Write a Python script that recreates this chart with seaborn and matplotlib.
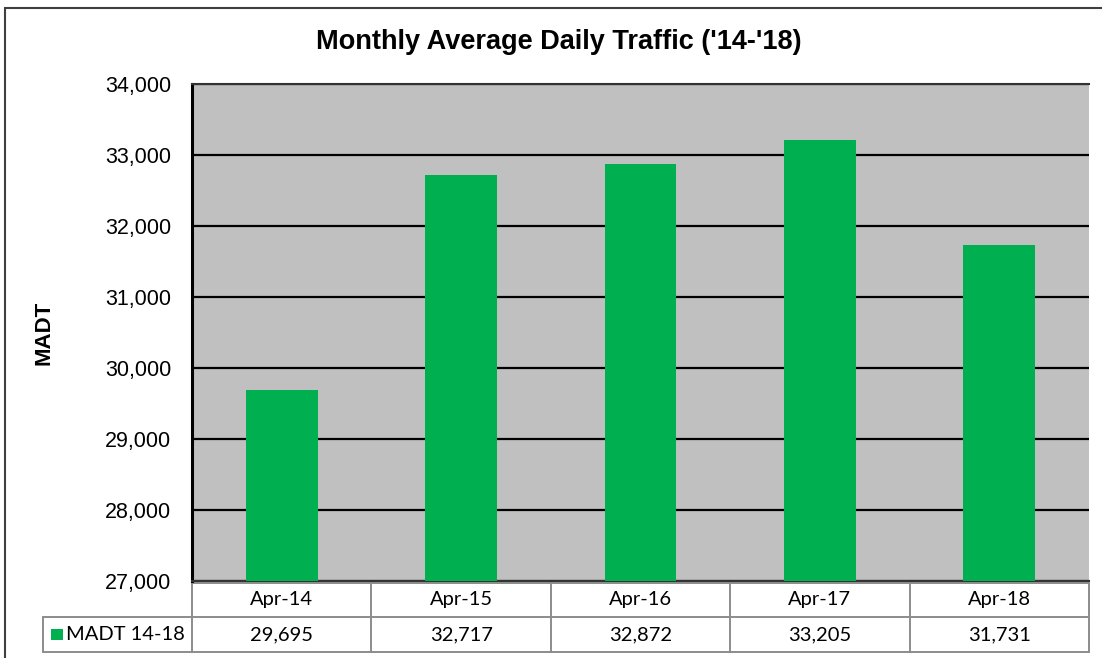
import matplotlib
matplotlib.use("Agg")
import matplotlib.pyplot as plt
import seaborn as sns
import pandas as pd
from matplotlib.patches import Rectangle
from matplotlib.ticker import FuncFormatter, MultipleLocator

categories = ["Apr-14", "Apr-15", "Apr-16", "Apr-17", "Apr-18"]
madt = [29695, 32717, 32872, 33205, 31731]
series_name = "MADT 14-18"
title = "Monthly Average Daily Traffic ('14-'18)"
ylabel = "MADT"

sns.set_theme(style="white")
plt.rcParams["font.family"] = ["Liberation Sans", "DejaVu Sans"]
plt.rcParams["text.color"] = "black"
plt.rcParams["axes.labelcolor"] = "black"

fig = plt.figure(figsize=(11.02, 6.58), dpi=100)
W, H = 1102, 658
ax = fig.add_axes([192 / W, 1 - 581 / H, (1089 - 192) / W, (581 - 84) / H])

df = pd.DataFrame({"cat": categories, "val": madt})
sns.barplot(data=df, x="cat", y="val", color="#00B050", saturation=1, width=0.4, ax=ax,
            zorder=3, edgecolor="none", linewidth=0)

ax.set_facecolor("#C0C0C0")
ax.set_ylim(27000, 34000)
ax.set_xlim(-0.5, len(categories) - 0.5)
ax.yaxis.set_major_locator(MultipleLocator(1000))
ax.yaxis.set_major_formatter(FuncFormatter(lambda v, p: f"{int(v):,}"))
ax.tick_params(axis="y", labelsize=15.5, length=0, pad=15, colors="black")
ax.tick_params(axis="x", length=0, labelbottom=False)
ax.set_xlabel("")
ax.set_ylabel(ylabel, fontsize=16, fontweight="bold", labelpad=36, color="black")
ax.grid(axis="y", color="black", linewidth=1.6, zorder=1)
ax.set_axisbelow(True)
for s in ["top", "bottom"]:
    ax.spines[s].set_color("#333333")
    ax.spines[s].set_linewidth(1.5)
ax.spines["left"].set_color("black")
ax.spines["left"].set_linewidth(2.2)
ax.spines["right"].set_visible(False)

# data table below the plot
tr = ax.get_xaxis_transform()
lc = "#8C8C8C"
y0, y1, y2 = -0.004, -0.0724, -0.143
xl = -0.5 - (192 - 43) / ((1089 - 192) / len(categories))
xr = len(categories) - 0.5
kw = dict(color=lc, linewidth=1.4, transform=tr, clip_on=False)
ax.plot([-0.5, xr], [y0, y0], **kw)
ax.plot([xl, xr], [y1, y1], **kw)
ax.plot([xl, xr], [y2, y2], **kw)
ax.plot([xl, xl], [y1, y2], **kw)
for i in range(len(categories) + 1):
    ax.plot([i - 0.5, i - 0.5], [y0, y2], **kw)
tfont = ["Lato", "DejaVu Sans"]
fs = 14.5
for i, (c, v) in enumerate(zip(categories, madt)):
    ax.text(i, (y0 + y1) / 2, c, transform=tr, ha="center", va="center", fontsize=fs, family=tfont, color="black")
    ax.text(i, (y1 + y2) / 2, f"{v:,}", transform=tr, ha="center", va="center", fontsize=fs, family=tfont, color="black")
ax.text(xl + 0.13, (y1 + y2) / 2, series_name, transform=tr, ha="left", va="center", fontsize=fs, family=tfont, color="black")
ax.add_patch(Rectangle((xl + 0.045, (y1 + y2) / 2 - 0.011), 0.067, 0.022, transform=tr,
                       facecolor="#00B050", edgecolor="none", clip_on=False))

fig.text(559 / W, 1 - 42 / H, title, ha="center", va="center", fontsize=19.5, fontweight="bold", color="black")

fig.patches.append(Rectangle((5 / W, -0.05), 1.2, 1 - 8 / H + 0.05, transform=fig.transFigure,
                             fill=False, edgecolor="#404040", linewidth=1.5))

fig.savefig("out.png", dpi=100)
